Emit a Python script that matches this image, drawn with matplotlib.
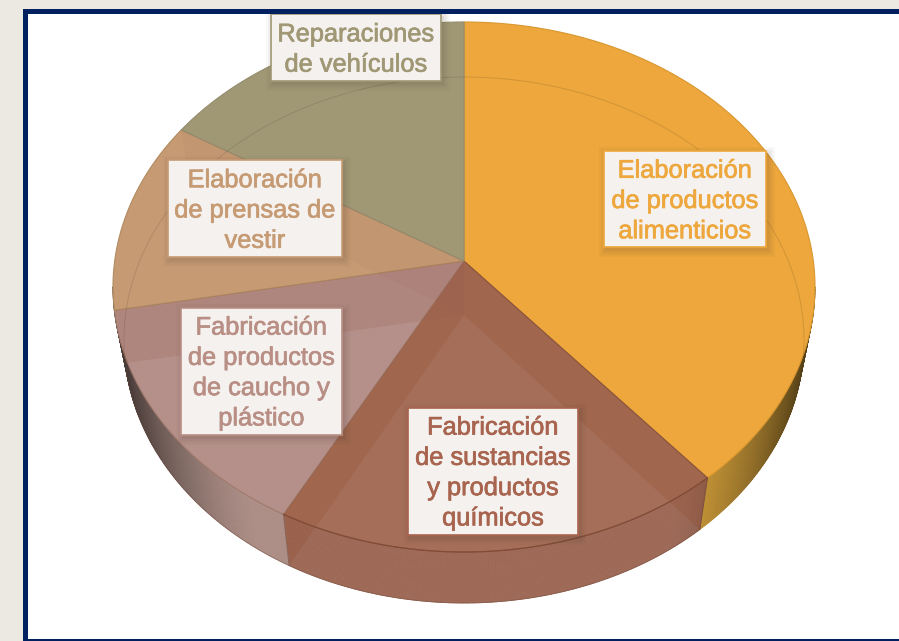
import numpy as np
import matplotlib
matplotlib.use("Agg")
import matplotlib.pyplot as plt
import matplotlib.patheffects as pe
from matplotlib.patches import Polygon, Rectangle
from matplotlib.collections import PolyCollection
from matplotlib.colors import to_rgb

# data
categories = ["Elaboración\nde productos\nalimenticios",
              "Fabricación\nde sustancias\ny productos\nquímicos",
              "Fabricación\nde productos\nde caucho y\nplástico",
              "Elaboración\nde prensas de\nvestir",
              "Reparaciones\nde vehículos"]
values = [37.8, 20.8, 15.0, 11.5, 14.9]

# style
top_colors = ["#EDA73C", "#A56E58", "#B5908A", "#C69B74", "#A09875"]
wall_colors = ["#CF9C38", "#9E6A57", "#AC8E86", "#B08A68", "#8F8868"]
text_colors = ["#EDA73C", "#A8644E", "#B98F85", "#C69B74", "#A09875"]
edge_colors = ["#D8962E", "#8A5540", "#A07A6C", "#B08A60", "#938B6C"]
boxes = [(604, 151, 766, 247), (408, 408, 578, 535), (181, 308, 342, 435),
         (168, 160, 342, 257), (271, 14, 441, 81)]
text_offset = [2, 1.5, 1.5, 2, 2]

# projection of the disc (pixel geometry of the drawing)
TOP = dict(cx=464, cy=287, rx=351, ry=265, ax=464, ay=261)
BASE = dict(cx=464, cy=340, rx=340, ry=263, ax=464, ay=315)


def pt(g, deg):
    a = np.radians(deg)
    return np.column_stack([g["cx"] + g["rx"] * np.sin(a), g["cy"] - g["ry"] * np.cos(a)])


def sector(g, t0, t1):
    ts = np.linspace(t0, t1, 200)
    return np.vstack([[g["ax"], g["ay"]], pt(g, ts)])


def shade(c, deg):
    s = abs(np.sin(np.radians(deg)))
    f = np.clip((s - 0.6) / 0.38, 0, 1) ** 1.4
    return tuple(np.array(to_rgb(c)) * (1 - 0.58 * f))


fig = plt.figure(figsize=(8.99, 6.41), dpi=100, facecolor="#ECE9E3")
ax = fig.add_axes([0, 0, 1, 1])
ax.set_xlim(0, 899)
ax.set_ylim(641, 0)
ax.axis("off")

# panel
ax.add_patch(Rectangle((23, 9), 900, 640, fc="#00205F", ec="none", zorder=1))
ax.add_patch(Rectangle((28, 14), 900, 625, fc="white", ec="none", zorder=1.1))

edges = np.concatenate([[0], np.cumsum(values)]) / np.sum(values) * 360

# outer walls
for i in range(len(values)):
    t0, t1 = edges[i], edges[i + 1]
    lo, hi = max(t0, 90), min(t1, 270)
    if hi <= lo:
        continue
    ts = np.arange(lo, hi + 0.5, 0.5)
    ts[-1] = hi
    A, B = pt(TOP, ts), pt(BASE, ts)
    quads = [[A[k], A[k + 1], B[k + 1], B[k]] for k in range(len(ts) - 1)]
    cols = [shade(wall_colors[i], ts[k]) for k in range(len(ts) - 1)]
    ax.add_collection(PolyCollection(quads, facecolors=cols, edgecolors=cols, linewidths=0.6, zorder=2))

# lower rim of base
ts = np.linspace(edges[1], edges[3], 300)
ax.plot(*pt(BASE, ts).T, color="#6B4538", lw=0.6, alpha=0.45, zorder=2.2)

# top faces
for i in range(len(values)):
    ax.add_patch(Polygon(sector(TOP, edges[i], edges[i + 1]), closed=True, fc=top_colors[i],
                         ec=edge_colors[i], lw=0.8, joinstyle="round", zorder=3))

# see-through radial walls
for i, e in enumerate(edges[1:-1]):
    a0, b0 = pt(TOP, e)[0], pt(BASE, e)[0]
    quad = [[TOP["ax"], TOP["ay"]], [BASE["ax"], BASE["ay"]], b0, a0]
    tone = "#8A3F1E" if i in (0, 1) else "#9A5F50"
    ax.add_patch(Polygon(quad, closed=True, fc=tone, ec="none", alpha={0: 0.17, 1: 0.17, 2: 0.2, 3: 0.08}[i], zorder=3.2))
    if i < 2:
        ax.plot([a0[0], b0[0]], [a0[1], b0[1]], color="#6B4538", lw=0.7, alpha=0.5, zorder=3.3)

# rear rim of the base seen through the top
ts = np.linspace(-96, 98, 300)
ax.plot(*pt(BASE, ts).T, color="#3A3020", lw=0.7, alpha=0.16, zorder=3.4)

# top arc accent across the chemical slice
ts = np.linspace(edges[1], edges[2], 200)
ax.plot(*pt(TOP, ts).T, color="#7E4A36", lw=0.9, alpha=0.8, zorder=3.5)

# labels
for name, (x0, y0, x1, y1), tc, dy in zip(categories, boxes, text_colors, text_offset):
    for k, al in zip((8, 6, 4, 2), (0.03, 0.04, 0.05, 0.06)):
        ax.add_patch(Rectangle((x0 - k + 3, y0 - k + 4), x1 - x0 + 2 * k - 2, y1 - y0 + 2 * k - 2,
                               fc="#4A3A2A", ec="none", alpha=al, zorder=4))
    ax.add_patch(Rectangle((x0, y0), x1 - x0, y1 - y0, fc="#F4F1EE", ec=tc, lw=1.2, zorder=4.5))
    ax.text((x0 + x1) / 2, (y0 + y1) / 2 + dy, name, ha="center", va="center", color=tc,
            family="Liberation Sans", fontsize=18.3, linespacing=1.33, multialignment="center", zorder=5,
            path_effects=[pe.withStroke(linewidth=0.5, foreground=tc)])

# panel top edge over the label
ax.add_patch(Rectangle((23, 9), 900, 5, fc="#00205F", ec="none", zorder=6))

fig.savefig("out.png", dpi=100, facecolor=fig.get_facecolor())
